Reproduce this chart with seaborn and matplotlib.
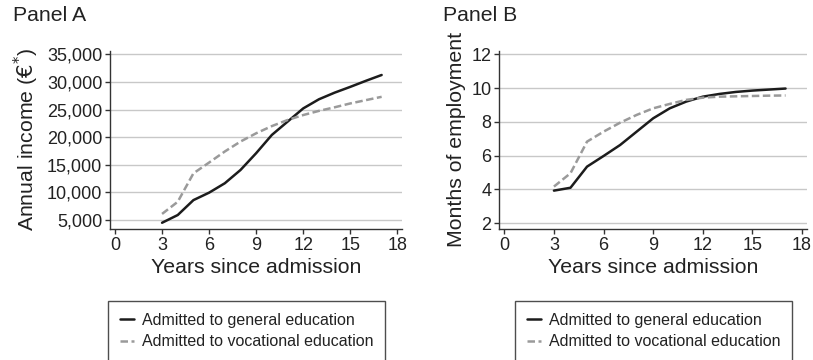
import matplotlib
matplotlib.use("Agg")
import matplotlib.pyplot as plt
from matplotlib.ticker import FuncFormatter
import seaborn as sns
import pandas as pd

# Years since admission
years = list(range(3, 18))

# Panel A: annual income (euros)
income_general = [4500, 5900, 8600, 9950, 11650, 14050, 17100, 20400, 22800,
                  25200, 26850, 28050, 29100, 30200, 31250]
income_vocational = [6100, 8300, 13450, 15400, 17400, 19200, 20700, 22000, 23100,
                     24000, 24750, 25400, 26100, 26700, 27300]

# Panel B: months of employment
months_general = [3.93, 4.10, 5.35, 5.98, 6.63, 7.42, 8.21, 8.80, 9.20,
                  9.49, 9.65, 9.77, 9.85, 9.91, 9.97]
months_vocational = [4.17, 4.96, 6.83, 7.42, 7.95, 8.41, 8.80, 9.06, 9.30,
                     9.43, 9.49, 9.51, 9.53, 9.55, 9.56]

groups = ["Admitted to general education", "Admitted to vocational education"]

income_df = pd.DataFrame({
    "year": years * 2,
    "value": income_general + income_vocational,
    "group": [groups[0]] * len(years) + [groups[1]] * len(years),
})
months_df = pd.DataFrame({
    "year": years * 2,
    "value": months_general + months_vocational,
    "group": [groups[0]] * len(years) + [groups[1]] * len(years),
})

sns.set_theme(style="white")
plt.rcParams["font.family"] = ["Liberation Sans", "DejaVu Sans"]
plt.rcParams["xtick.labelsize"] = 13
plt.rcParams["ytick.labelsize"] = 13
plt.rcParams["axes.labelsize"] = 15.3

palette = {groups[0]: "#1c1c1c", groups[1]: "#9a9a9a"}
dashes = {groups[0]: "", groups[1]: (3, 1.4)}

fig = plt.figure(figsize=(8.13, 3.6), dpi=100)
ax_a = fig.add_axes([0.1353, 0.3639, 0.3592, 0.4953])
ax_b = fig.add_axes([0.6138, 0.3639, 0.3789, 0.4953])

panels = [
    (ax_a, income_df, "Annual income ($€^{*}$)", (3370, 35650),
     [5000, 10000, 15000, 20000, 25000, 30000, 35000], "Panel A", 0.0165, 0.3032),
    (ax_b, months_df, "Months of employment", (1.66, 12.21),
     [2, 4, 6, 8, 10, 12], "Panel B", 0.545, 0.8038),
]

for ax, df, ylabel, ylim, yticks, title, title_x, leg_x in panels:
    sns.lineplot(data=df, x="year", y="value", hue="group", style="group",
                 palette=palette, dashes=dashes, linewidth=1.8, ax=ax)
    ax.set_xlim(-0.32, 18.3)
    ax.set_ylim(*ylim)
    ax.set_xticks([0, 3, 6, 9, 12, 15, 18])
    ax.set_yticks(yticks)
    if ylim[1] > 100:
        ax.yaxis.set_major_formatter(FuncFormatter(lambda v, p: f"{int(v):,}"))
    ax.yaxis.grid(True, color="#c8c8c8", linewidth=1.0)
    ax.set_axisbelow(True)
    for side in ("top", "right"):
        ax.spines[side].set_visible(False)
    for side in ("left", "bottom"):
        ax.spines[side].set_color("#333333")
        ax.spines[side].set_linewidth(1.0)
    ax.tick_params(axis="both", which="major", length=3.5, width=1.0,
                   color="#333333", labelsize=13, pad=2, labelcolor="#222222",
                   left=True, bottom=True, direction="out")
    for lbl in ax.get_xticklabels() + ax.get_yticklabels():
        lbl.set_fontsize(13)
    ax.set_xlabel("Years since admission", fontsize=15.3, color="#222222", labelpad=3)
    ax.set_ylabel(ylabel, fontsize=15.3, color="#222222", labelpad=4)
    fig.text(title_x, 1 - 21 / 360, title, fontsize=15.3, color="#222222",
             ha="left", va="baseline")
    ax.get_legend().remove()
    handles, labels = ax.get_legend_handles_labels()
    leg = ax.legend(handles, labels, loc="center", bbox_to_anchor=(leg_x, 0.0806),
                    bbox_transform=fig.transFigure, fontsize=11.5, frameon=True,
                    fancybox=False, handlelength=0.9, handletextpad=0.5,
                    labelspacing=0.4, borderpad=0.75, borderaxespad=0)
    frame = leg.get_frame()
    frame.set_edgecolor("#222222")
    frame.set_linewidth(1.0)
    for t in leg.get_texts():
        t.set_color("#222222")

fig.savefig("out.png", dpi=100)
